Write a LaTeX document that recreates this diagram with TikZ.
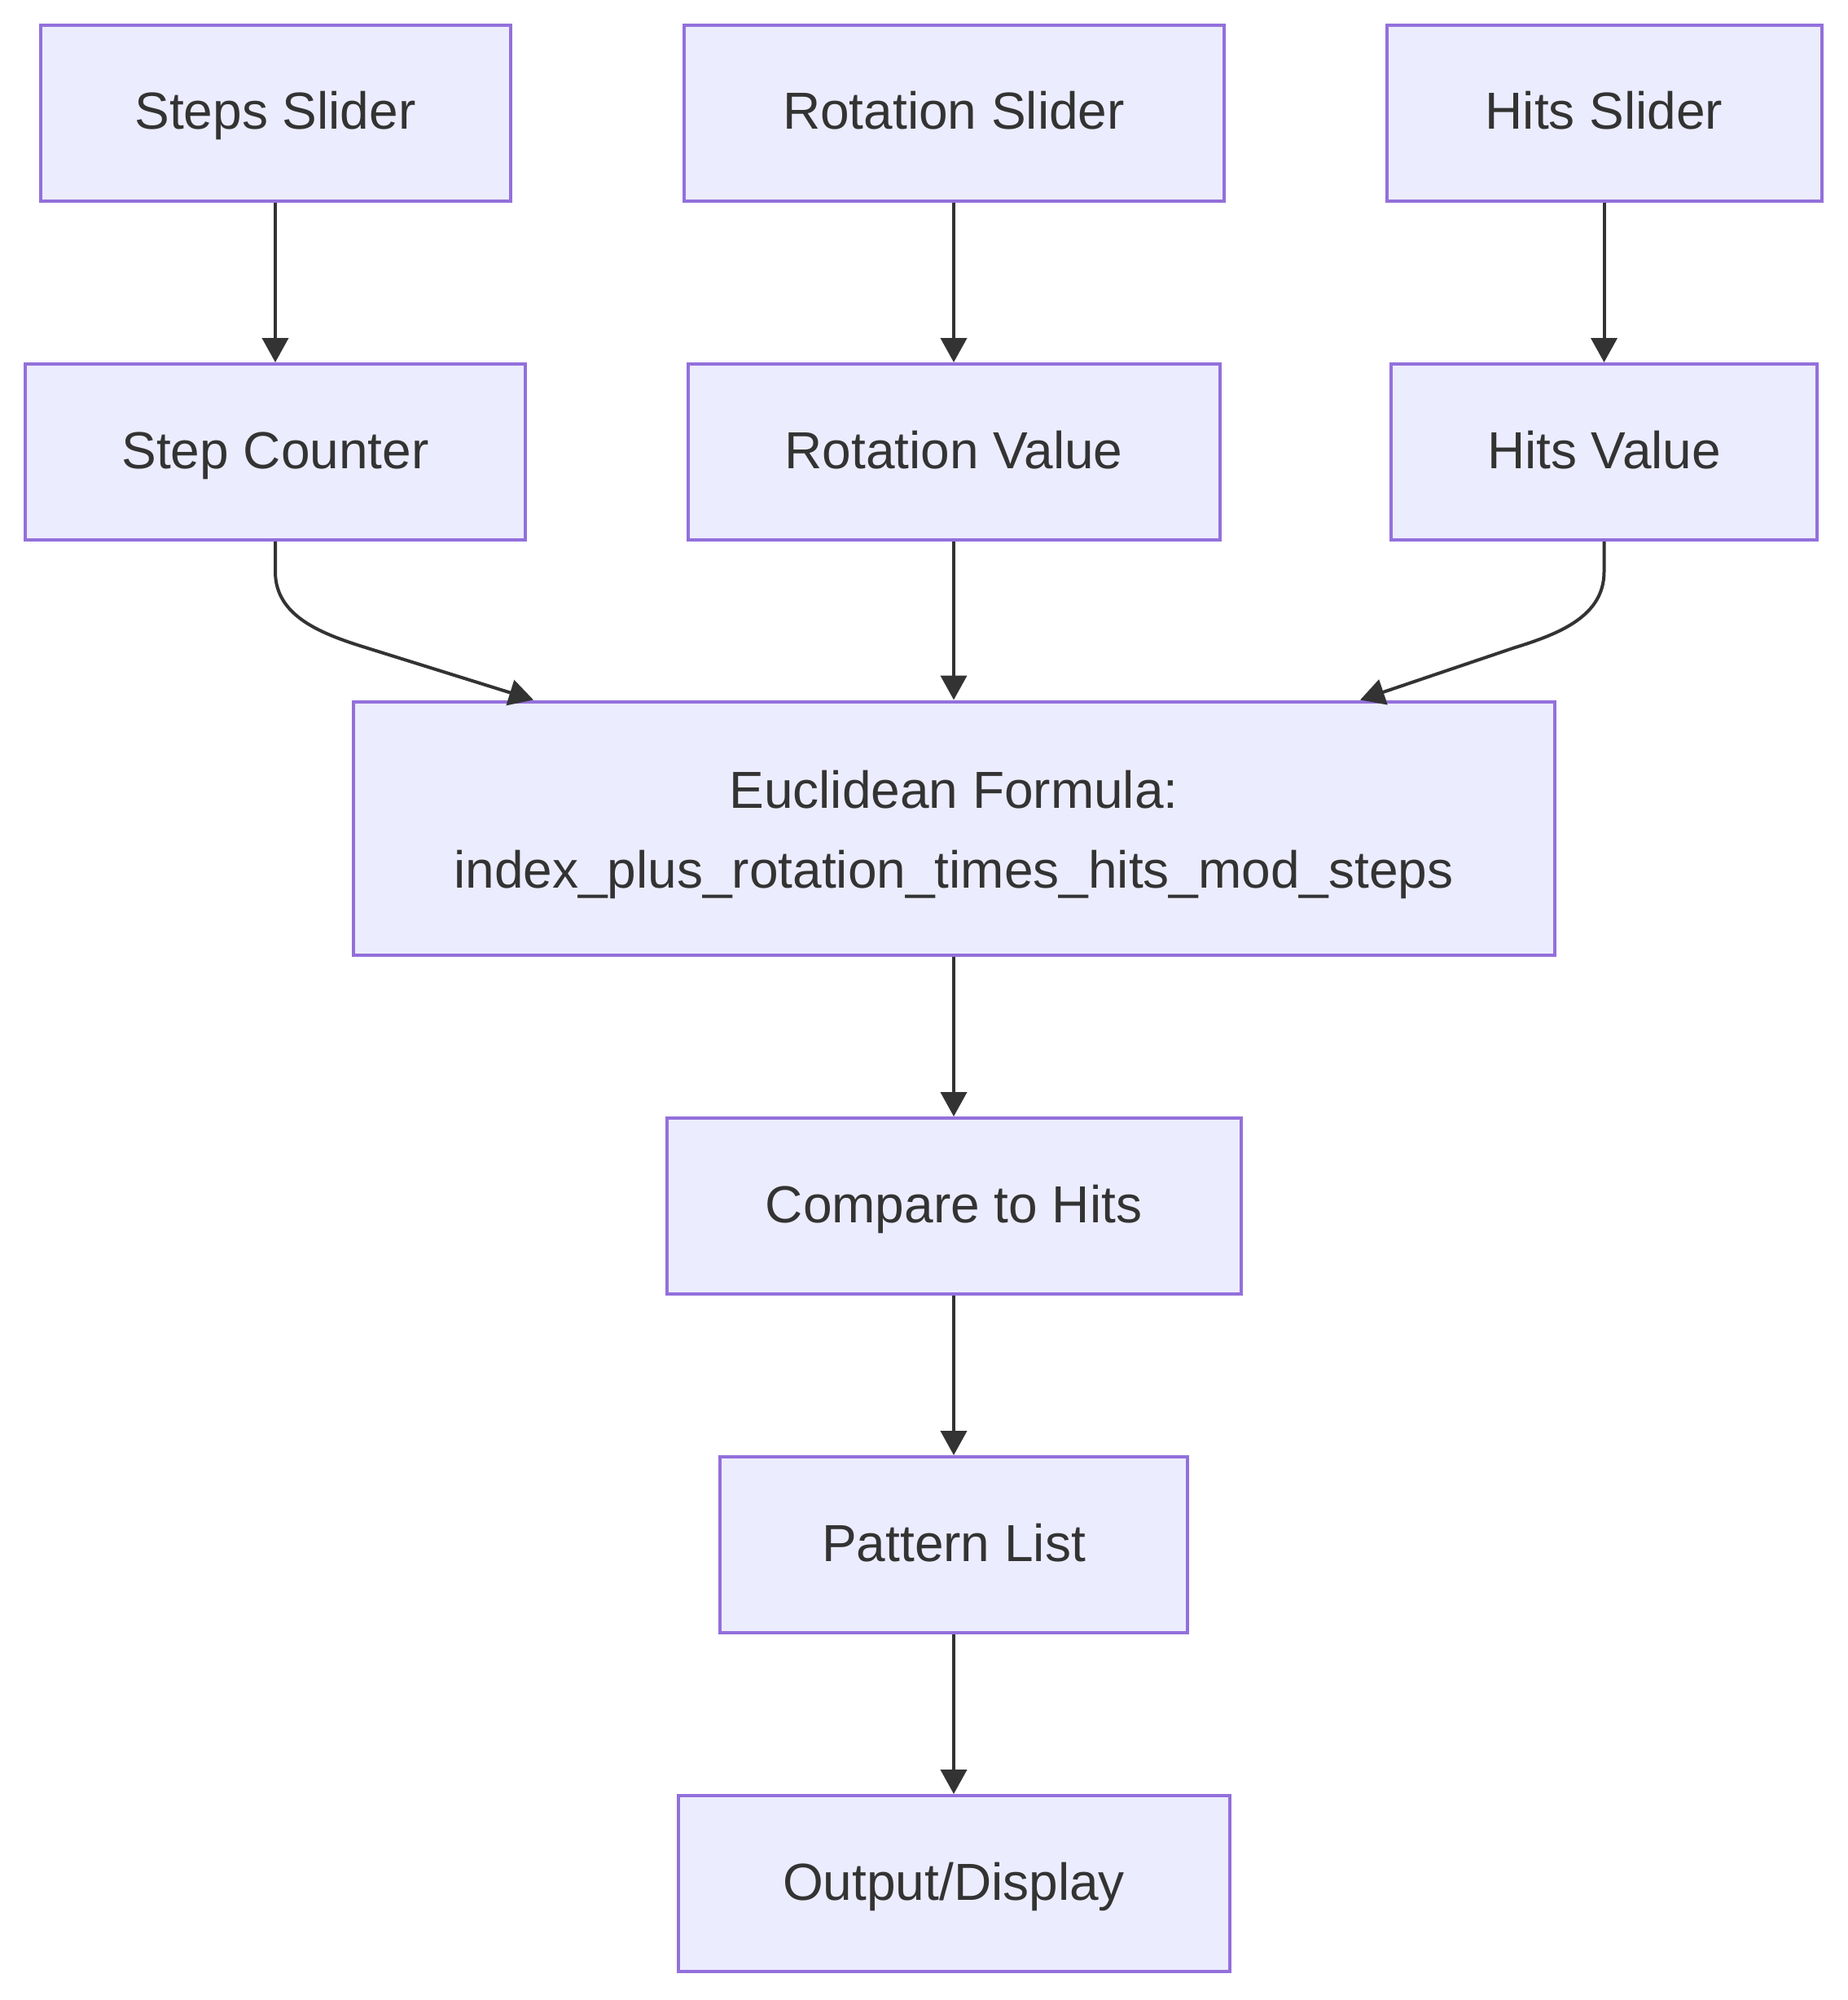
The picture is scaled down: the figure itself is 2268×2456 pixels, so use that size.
\documentclass[tikz,border=0pt]{standalone}
\usepackage{fontspec}
\setmainfont{Liberation Sans}
\usetikzlibrary{arrows.meta,calc}
\definecolor{boxfill}{HTML}{ECECFF}
\definecolor{boxline}{HTML}{9370DB}
\definecolor{ink}{HTML}{333333}
\tikzset{
  box/.style={draw=boxline, fill=boxfill, line width=4pt, text=ink,
    minimum height=216pt, inner sep=0pt, align=center,
    font=\fontsize{64}{98}\selectfont},
  onebox/.style={box, text height=52pt, text depth=12pt},
  arr/.style={draw=ink, line width=4pt, -{Triangle[length=30pt,width=32pt]}}
}
\begin{document}
\begin{tikzpicture}[x=1pt,y=-1pt]
\useasboundingbox[fill=white] (0,0) rectangle (2268,2456);
\node[onebox, minimum width=577pt] (ss) at (338,139) {Steps Slider};
\node[onebox, minimum width=663pt] (rs) at (1171,139) {Rotation Slider};
\node[onebox, minimum width=534pt] (hs) at (1969.5,139) {Hits Slider};
\node[onebox, minimum width=614pt] (sc) at (338,555) {Step Counter};
\node[onebox, minimum width=653pt] (rv) at (1171,555) {Rotation Value};
\node[onebox, minimum width=523pt] (hv) at (1969.5,555) {Hits Value};
\node[box, minimum width=1475pt, minimum height=311pt] (eu) at (1171,1017) {\rule{0pt}{62pt}Euclidean Formula:\\index\_plus\_rotation\_times\_hits\_mod\_steps\rule[-14pt]{0pt}{14pt}};
\node[onebox, minimum width=705pt] (cp) at (1171,1481) {Compare to Hits};
\node[onebox, minimum width=574pt] (pl) at (1171,1897) {Pattern List};
\node[onebox, minimum width=677pt] (od) at (1171,2313) {Output/Display};
\draw[arr] (ss.south) -- (sc.north);
\draw[arr] (rs.south) -- (rv.north);
\draw[arr] (hs.south) -- (hv.north);
\draw[arr] (rv.south) -- (eu.north);
\draw[arr] (sc.south) -- ++(0,37) .. controls +(0,55) and +(-55,-17) .. ($(eu.north)+(-721,-64)$) -- ($(eu.north)+(-516,0)$);
\draw[arr] (hv.south) -- ++(0,37) .. controls +(0,55) and +(55,-17) .. ($(eu.north)+(688,-64)$) -- ($(eu.north)+(499,0)$);
\draw[arr] (eu.south) -- (cp.north);
\draw[arr] (cp.south) -- (pl.north);
\draw[arr] (pl.south) -- (od.north);
\end{tikzpicture}
\end{document}
